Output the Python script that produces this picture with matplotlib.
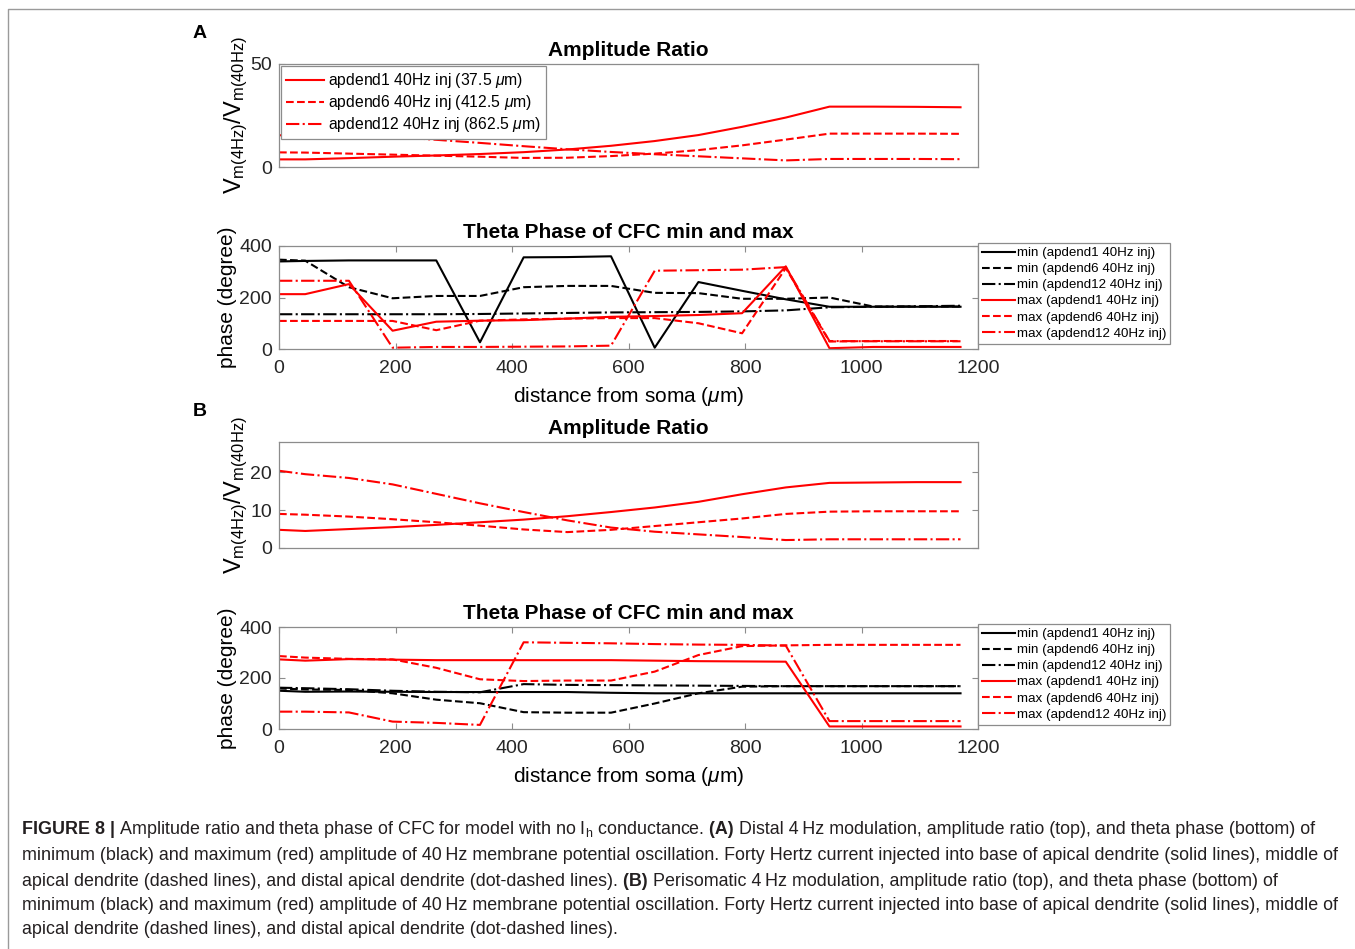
import matplotlib
matplotlib.use("Agg")
import matplotlib.pyplot as plt
from matplotlib.lines import Line2D

NARROW = ["Liberation Sans Narrow", "Liberation Sans", "DejaVu Sans"]
WIDE = ["Liberation Sans", "DejaVu Sans"]
plt.rcParams["font.family"] = NARROW
plt.rcParams["mathtext.fontset"] = "custom"
plt.rcParams["mathtext.rm"] = "Liberation Sans"
plt.rcParams["mathtext.it"] = "Liberation Sans:italic"
plt.rcParams["mathtext.bf"] = "Liberation Sans:bold"

# distance from soma (um) of the sampled dendritic points
dist = [0, 45, 120, 195, 270, 345, 420, 495, 570, 645, 720, 795, 870, 945, 1020, 1095, 1170]

# ---- A: distal 4 Hz modulation ----
a_ratio_d1 = [3.7, 3.7, 4.3, 5.0, 5.6, 6.3, 7.2, 8.5, 10.3, 12.6, 15.5, 19.5, 24.0, 29.3, 29.3, 29.2, 29.0]
a_ratio_d6 = [7.1, 7.0, 6.5, 6.0, 5.5, 5.0, 4.4, 4.5, 5.3, 6.5, 8.2, 10.5, 13.3, 16.2, 16.2, 16.2, 16.1]
a_ratio_d12 = [15.4, 15.4, 15.2, 14.6, 13.2, 11.7, 10.1, 8.6, 7.3, 6.2, 5.2, 4.2, 3.2, 3.9, 3.9, 3.9, 3.8]

a_min_d1 = [340, 342, 344, 344, 344, 26, 356, 357, 360, 5, 260, 226, 193, 164, 164, 164, 164]
a_min_d6 = [347, 343, 240, 197, 206, 206, 240, 245, 245, 218, 217, 195, 195, 200, 165, 165, 165]
a_min_d12 = [135, 135, 135, 135, 135, 136, 138, 140, 142, 143, 144, 146, 150, 162, 164, 166, 168]
a_max_d1 = [213, 213, 252, 71, 106, 110, 112, 118, 125, 128, 132, 139, 321, 3, 8, 8, 8]
a_max_d6 = [109, 109, 109, 109, 73, 110, 115, 118, 120, 120, 100, 61, 314, 29, 31, 31, 31]
a_max_d12 = [265, 265, 265, 5, 8, 8, 9, 10, 13, 304, 306, 308, 318, 31, 30, 30, 30]

# ---- B: perisomatic 4 Hz modulation ----
b_ratio_d1 = [4.8, 4.5, 5.0, 5.5, 6.1, 6.8, 7.5, 8.4, 9.5, 10.7, 12.2, 14.2, 16.0, 17.2, 17.3, 17.4, 17.4]
b_ratio_d6 = [9.0, 8.8, 8.3, 7.6, 6.8, 5.9, 4.9, 4.2, 4.8, 5.8, 6.8, 7.8, 9.0, 9.6, 9.7, 9.7, 9.7]
b_ratio_d12 = [20.4, 19.5, 18.5, 16.8, 14.3, 11.8, 9.5, 7.3, 5.4, 4.3, 3.6, 2.9, 2.1, 2.3, 2.3, 2.3, 2.3]

b_min_d1 = [150, 146, 147, 146, 145, 145, 145, 145, 142, 140, 140, 140, 140, 140, 140, 140, 140]
b_min_d6 = [159, 155, 153, 140, 115, 101, 66, 64, 64, 100, 140, 166, 168, 168, 168, 168, 168]
b_min_d12 = [162, 160, 156, 150, 146, 144, 176, 173, 172, 171, 170, 169, 168, 168, 168, 168, 168]
b_max_d1 = [273, 268, 274, 272, 270, 270, 270, 270, 270, 268, 266, 265, 264, 10, 10, 10, 10]
b_max_d6 = [286, 280, 275, 273, 240, 195, 188, 190, 190, 225, 290, 325, 328, 330, 330, 330, 330]
b_max_d12 = [68, 68, 65, 29, 24, 16, 340, 338, 336, 333, 331, 330, 327, 31, 31, 31, 31]

ratio_labels = [r"apdend1 40Hz inj (37.5 $\mu$m)",
                r"apdend6 40Hz inj (412.5 $\mu$m)",
                r"apdend12 40Hz inj (862.5 $\mu$m)"]
phase_labels = ["min (apdend1 40Hz inj)", "min (apdend6 40Hz inj)",
                "min (apdend12 40Hz inj)", "max (apdend1 40Hz inj)",
                "max (apdend6 40Hz inj)", "max (apdend12 40Hz inj)"]

styles = ["-", "--", "-."]
RED = "#ff0000"
BOX = "#8c8c8c"
LW = 1.5

W, H = 1355, 949
fig = plt.figure(figsize=(W / 100, H / 100), dpi=100)


def px_axes(left, top, right, bottom):
    return fig.add_axes([left / W, 1 - bottom / H, (right - left) / W, (bottom - top) / H])


def style_axes(ax):
    for s in ax.spines.values():
        s.set_color(BOX)
        s.set_linewidth(0.9)
    ax.tick_params(direction="in", length=4, width=0.8, color=BOX,
                   top=True, right=True, labelsize=14, labelcolor="#262626")
    ax.tick_params(axis="x", pad=8)
    ax.tick_params(axis="y", pad=5)
    ax.set_xlim(0, 1200)


def ratio_panel(ax, series, ylim, yticks, legend):
    for ys, ls, lab in zip(series, styles, ratio_labels):
        ax.plot(dist, ys, ls, color=RED, lw=LW, label=lab)
    style_axes(ax)
    ax.set_ylim(*ylim)
    ax.set_yticks(yticks)
    ax.set_xticks([])
    ax.set_title("Amplitude Ratio", fontsize=15, fontweight="bold", pad=6)
    ax.set_ylabel(r"V$_{\mathrm{m(4Hz)}}$/V$_{\mathrm{m(40Hz)}}$", fontsize=17, labelpad=0)
    if legend:
        leg = ax.legend(loc="upper left", bbox_to_anchor=(0, 1), borderaxespad=0.15,
                        fontsize=11.3, handlelength=2.4, handletextpad=0.3,
                        labelspacing=0.2, fancybox=False, framealpha=1,
                        edgecolor=BOX, borderpad=0.3)
        leg.get_frame().set_linewidth(0.9)


def phase_panel(ax, mins, maxs):
    for ys, ls, lab in zip(mins, styles, phase_labels[:3]):
        ax.plot(dist, ys, ls, color="black", lw=LW, label=lab)
    for ys, ls, lab in zip(maxs, styles, phase_labels[3:]):
        ax.plot(dist, ys, ls, color=RED, lw=LW, label=lab)
    style_axes(ax)
    ax.set_ylim(0, 400)
    ax.set_yticks([0, 200, 400])
    ax.set_xticks(range(0, 1201, 200))
    ax.set_title("Theta Phase of CFC min and max", fontsize=15, fontweight="bold", pad=6)
    ax.set_ylabel("phase (degree)", fontsize=15, family=WIDE, labelpad=2)
    ax.set_xlabel(r"distance from soma ($\mu$m)", fontsize=15, labelpad=6)
    leg = ax.legend(loc="upper left", bbox_to_anchor=(1.0, 1.03), borderaxespad=0,
                    prop={"family": WIDE, "size": 9.6}, handlelength=2.5,
                    handletextpad=0.1, labelspacing=0.28, fancybox=False,
                    framealpha=1, edgecolor=BOX, borderpad=0.3)
    leg.get_frame().set_linewidth(0.9)


ax_a1 = px_axes(279, 64, 978, 167)
ratio_panel(ax_a1, [a_ratio_d1, a_ratio_d6, a_ratio_d12], (0, 50), [0, 50], True)
ax_a2 = px_axes(279, 246, 978, 349)
phase_panel(ax_a2, [a_min_d1, a_min_d6, a_min_d12], [a_max_d1, a_max_d6, a_max_d12])

ax_b1 = px_axes(279, 442, 978, 548)
ratio_panel(ax_b1, [b_ratio_d1, b_ratio_d6, b_ratio_d12], (0, 28), [0, 10, 20], False)
ax_b2 = px_axes(279, 627, 978, 729)
phase_panel(ax_b2, [b_min_d1, b_min_d6, b_min_d12], [b_max_d1, b_max_d6, b_max_d12])

fig.text(193 / W, 1 - 34 / H, "A", fontsize=14, fontweight="bold", family=WIDE, va="center")
fig.text(193 / W, 1 - 411 / H, "B", fontsize=14, fontweight="bold", family=WIDE, va="center")

# page frame along the top and left edges
fig.add_artist(Line2D([8 / W, 8 / W, 1], [0, 1 - 9 / H, 1 - 9 / H],
                      transform=fig.transFigure, color="#9a9a9a", lw=1))

# caption, written run by run so bold pieces can sit inside a line
caption = [
    [("FIGURE 8 |", True),
     (" Amplitude ratio and theta phase of CFC for model with no I$_\\mathrm{h}$ conductance.", False),
     (" (A)", True),
     (" Distal 4\u2009Hz modulation, amplitude ratio (top), and theta phase (bottom) of", False)],
    [("minimum (black) and maximum (red) amplitude of 40\u2009Hz membrane potential oscillation. "
      "Forty Hertz current injected into base of apical dendrite (solid lines), middle of", False)],
    [("apical dendrite (dashed lines), and distal apical dendrite (dot-dashed lines).", False),
     (" (B)", True),
     (" Perisomatic 4\u2009Hz modulation, amplitude ratio (top), and theta phase (bottom) of", False)],
    [("minimum (black) and maximum (red) amplitude of 40\u2009Hz membrane potential oscillation. "
      "Forty Hertz current injected into base of apical dendrite (solid lines), middle of", False)],
    [("apical dendrite (dashed lines), and distal apical dendrite (dot-dashed lines).", False)],
]
renderer = fig.canvas.get_renderer()
line_y = [830, 856, 881, 906, 930]
for y, runs in zip(line_y, caption):
    x = 22 / W
    for txt, bold in runs:
        t = fig.text(x, 1 - y / H, txt, fontsize=12.85, color="#231f20",
                     fontweight="bold" if bold else "normal", va="center")
        bb = t.get_window_extent(renderer)
        x += bb.width / W

fig.savefig("out.png", dpi=100)
